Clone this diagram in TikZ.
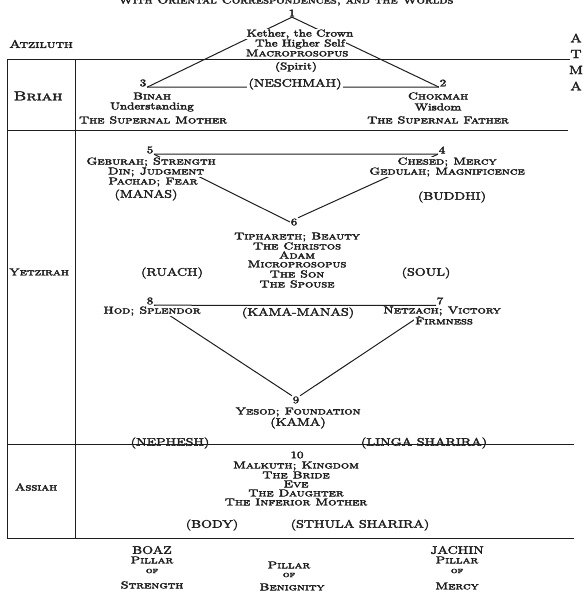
\documentclass[tikz,border=0pt]{standalone}
\usepackage{graphicx}
\definecolor{ink}{HTML}{1E1E1E}
\pgfdeclarelayer{bg}
\pgfsetlayers{bg,main}
\newcommand\W[1]{\scalebox{1.3}[1]{\special{pdf:literal 2 Tr 0.3 w}#1\special{pdf:literal 0 Tr}}}
\begin{document}
\begin{tikzpicture}[x=1pt,y=-1pt,
  tx/.style={inner xsep=1pt, inner ysep=0.5pt, text=ink, font=\fontsize{10}{10}\selectfont\scshape},
  tm/.style={tx, fill=white},
  cp/.style={inner xsep=1pt, inner ysep=0.5pt, text=ink, font=\fontsize{11}{11}\selectfont},
  cpm/.style={cp, fill=white},
  num/.style={inner sep=0.6pt, text=ink, font=\fontsize{10}{10}\selectfont},
  ln/.style={draw=ink, line width=1pt},
  world/.style={inner sep=1pt, text=ink, font=\fontsize{10}{10}\selectfont\scshape}]
\useasboundingbox (0,0) rectangle (585,594);

% title (cut off at the top)
\node[tx, anchor=base] (title) at (286,3.5) {\W{With Oriental Correspondences, and the Worlds}};

% sephiroth numbers
\node[num] (n1) at (292,13) {\W{1}};
\node[num] (n2) at (443,83) {\W{2}};
\node[num] (n3) at (143,83) {\W{3}};
\node[num] (n4) at (442,150) {\W{4}};
\node[num] (n5) at (150,150) {\W{5}};
\node[num] (n6) at (294,222) {\W{6}};
\node[num] (n7) at (440,301) {\W{7}};
\node[num] (n8) at (150,301) {\W{8}};
\node[num] (n9) at (296,400) {\W{9}};
\node[num] (n10) at (297,455) {\W{10}};

% worlds
\node[world, font=\fontsize{11}{11}\selectfont\scshape] (atz) at (41,44) {\W{Atziluth}};
\node[world, font=\fontsize{13}{13}\selectfont\scshape] (bri) at (38,96) {\W{Briah}};
\node[world] (yet) at (39,272) {\W{Yetzirah}};
\node[world] (ass) at (36,487) {\W{Assiah}};
\node[cp, font=\fontsize{12}{12}\selectfont] (atA) at (576,38) {\W{A}};
\node[cp, font=\fontsize{12}{12}\selectfont] (atT) at (576,54) {\W{T}};
\node[cp, font=\fontsize{12}{12}\selectfont] (atM) at (576,70) {\W{M}};
\node[cp, font=\fontsize{12}{12}\selectfont] (atA2) at (576,86) {\W{A}};

% Kether
\node[tm] (k1) at (300,34) {\W{\upshape Kether, the Crown}};
\node[tm] (k2) at (300,44) {\W{\upshape The Higher Self}};
\node[tm] (k3) at (297,53) {\W{Macroprosopus}};
\node[tx] (k4) at (296,67) {\W{\upshape (Spirit)}};
\node[cpm] (nes) at (295,84) {\W{(NESCHMAH)}};

% Binah / Chokmah
\node[tm] (b1) at (152,96) {\W{Binah}};
\node[tm] (b2) at (152,107) {\W{\upshape Understanding}};
\node[tm] (b3) at (153,120) {\W{The Supernal Mother}};
\node[tm] (c1) at (438,96) {\W{Chokmah}};
\node[tm] (c2) at (438,107) {\W{\upshape Wisdom}};
\node[tm] (c3) at (438,120) {\W{The Supernal Father}};

% Geburah / Chesed
\node[tm] (g1) at (151,162) {\W{Geburah; Strength}};
\node[tm] (g2) at (156,172) {\W{Din; Judgment}};
\node[tm] (g3) at (153,182) {\W{Pachad; Fear}};
\node[cp] (g4) at (146,195) {\W{(MANAS)}};
\node[tm] (h1) at (447,162) {\W{Chesed; Mercy}};
\node[tm] (h2) at (447,172) {\W{Gedulah; Magnificence}};
\node[cp] (h3) at (452,197) {\W{(BUDDHI)}};

% Tiphareth
\node[tm] (t1) at (297,237) {\W{Tiphareth; Beauty}};
\node[tm] (t2) at (297,246) {\W{The Christos}};
\node[tm] (t3) at (297,255) {\W{Adam}};
\node[tm] (t4) at (297,264) {\W{Microprosopus}};
\node[tm] (t5) at (297,274) {\W{The Son}};
\node[tm] (t6) at (297,284) {\W{The Spouse}};
\node[cp] (ru) at (172,273) {\W{(RUACH)}};
\node[cp] (so) at (426,273) {\W{(SOUL)}};

% Hod / Netzach
\node[tm] (o1) at (152,311) {\W{Hod; Splendor}};
\node[cp] (km) at (298,313) {\W{(KAMA-MANAS)}};
\node[tm] (z1) at (442,311) {\W{Netzach; Victory}};
\node[tm] (z2) at (444,321) {\W{Firmness}};

% Yesod
\node[tm] (y1) at (298,412) {\W{Yesod; Foundation}};
\node[cp] (y2) at (298,423) {\W{(KAMA)}};
\node[cp] (nep) at (170,443) {\W{(NEPHESH)}};
\node[cp] (lin) at (424,443) {\W{(LINGA SHARIRA)}};

% Malkuth
\node[tx] (m1) at (296,466) {\W{Malkuth; Kingdom}};
\node[tx] (m2) at (296,475) {\W{The Bride}};
\node[tx] (m3) at (296,484) {\W{Eve}};
\node[tx] (m4) at (296,493) {\W{The Daughter}};
\node[tx] (m5) at (296,502) {\W{The Inferior Mother}};
\node[cp] (bo) at (212,525) {\W{(BODY)}};
\node[cp] (st) at (360,525) {\W{(STHULA SHARIRA)}};

% pillars
\node[cp] (p1) at (152,550) {\W{BOAZ}};
\node[tx] (p2) at (152,560) {\W{Pillar}};
\node[tx, font=\fontsize{8}{8}\selectfont\scshape] (p3) at (152,571) {\W{of}};
\node[tx] (p4) at (152,585) {\W{Strength}};
\node[tx] (q2) at (289,565) {\W{Pillar}};
\node[tx, font=\fontsize{8}{8}\selectfont\scshape] (q3) at (289,575) {\W{of}};
\node[tx] (q4) at (292,587) {\W{Benignity}};
\node[cp] (r1) at (457,550) {\W{JACHIN}};
\node[tx] (r2) at (457,560) {\W{Pillar}};
\node[tx, font=\fontsize{8}{8}\selectfont\scshape] (r3) at (457,571) {\W{of}};
\node[tx] (r4) at (457,586) {\W{Mercy}};

\begin{pgfonlayer}{bg}
  % frame of the worlds
  \draw[ln] (7,60) -- (570,60);
  \draw[ln] (7,130) -- (568,130);
  \draw[ln] (7,444) -- (574,444);
  \draw[ln] (7,538) -- (574,538);
  \draw[ln] (7,60) -- (7,538);
  \draw[ln] (75,60) -- (75,538);
  % tree connectors
  \draw[ln] (n3.south east) -- (n1.south) -- (n2.south west);
  \draw[ln] (n3.south east) -- (n2.south west);
  \draw[ln] (n5.south east) -- (n4.south west);
  \draw[ln] (n5.south east) -- (n6.west);
  \draw[ln] (n4.south west) -- (n6.north east);
  \draw[ln] (n8.south east) -- (n7.south west);
  \draw[ln] (n8.south east) -- (n9.north west);
  \draw[ln] (n7.south west) -- (n9.north east);
\end{pgfonlayer}
\end{tikzpicture}
\end{document}
